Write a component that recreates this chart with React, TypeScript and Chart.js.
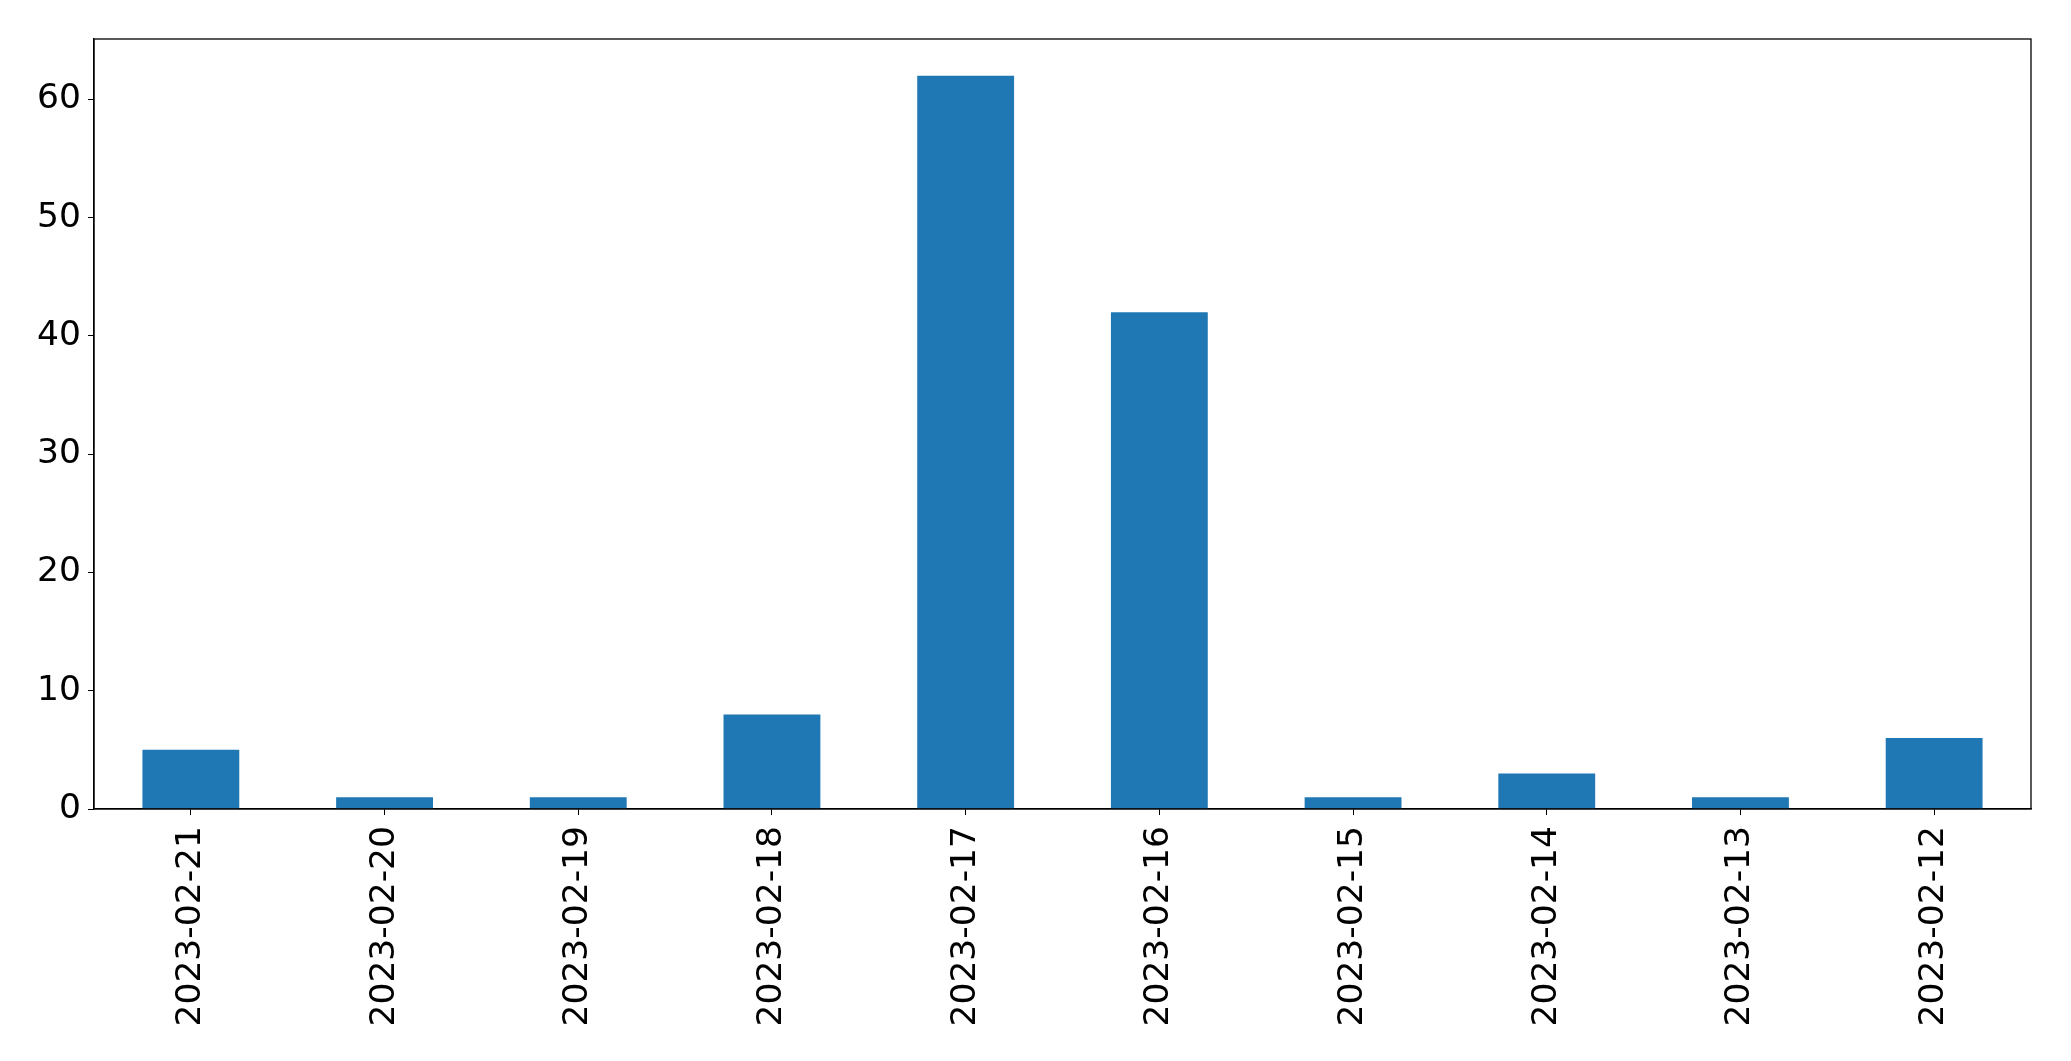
import React, { useEffect, useRef } from "react";
import { Chart, registerables } from "chart.js";

Chart.register(...registerables);

const categories = [
  "2023-02-21",
  "2023-02-20",
  "2023-02-19",
  "2023-02-18",
  "2023-02-17",
  "2023-02-16",
  "2023-02-15",
  "2023-02-14",
  "2023-02-13",
  "2023-02-12",
];
const counts = [5, 1, 1, 8, 62, 42, 1, 3, 1, 6];
const yMax = 65.1;
const yStep = 10;

const W = 2071;
const H = 1061;

const frame = {
  id: "frame",
  afterDraw(chart: any) {
    const { ctx, chartArea } = chart;
    ctx.save();
    ctx.strokeStyle = "#000";
    ctx.lineWidth = 1.3;
    ctx.strokeRect(chartArea.left, chartArea.top, chartArea.right - chartArea.left, chartArea.bottom - chartArea.top);
    ctx.restore();
  },
};

export default function App() {
  const ref = useRef<HTMLCanvasElement | null>(null);
  useEffect(() => {
    document.body.style.margin = "0";
    const font = { family: "DejaVu Sans", size: 34.5 };
    const chart = new Chart(ref.current!, {
      type: "bar",
      data: {
        labels: categories,
        datasets: [
          {
            data: counts,
            backgroundColor: "#1f77b4",
            barPercentage: 0.5,
            categoryPercentage: 1,
          },
        ],
      },
      options: {
        responsive: false,
        animation: false,
        layout: { padding: { top: 39, right: 40, left: 0, bottom: 0 } },
        plugins: { legend: { display: false }, tooltip: { enabled: false } },
        scales: {
          x: {
            offset: true,
            grid: { drawOnChartArea: false, drawTicks: true, tickLength: 6, color: "#000", offset: false },
            border: { display: true, color: "#000", width: 1.3 },
            ticks: { color: "#000", font, minRotation: 90, maxRotation: 90, padding: 11, autoSkip: false },
            afterFit: (s: any) => {
              s.height = H - 809;
            },
          },
          y: {
            min: 0,
            max: yMax,
            grid: { drawOnChartArea: false, drawTicks: true, tickLength: 6, color: "#000" },
            border: { display: true, color: "#000", width: 1.3 },
            ticks: { color: "#000", font, stepSize: yStep, includeBounds: false, padding: 7 },
            afterFit: (s: any) => {
              s.width = 94;
            },
          },
        },
      },
      plugins: [frame],
    } as any);
    return () => chart.destroy();
  }, []);
  return (
    <div style={{ position: "absolute", left: 0, top: 0, width: W, height: H, background: "#fff" }}>
      <canvas ref={ref} width={W} height={H} style={{ display: "block" }} />
    </div>
  );
}
